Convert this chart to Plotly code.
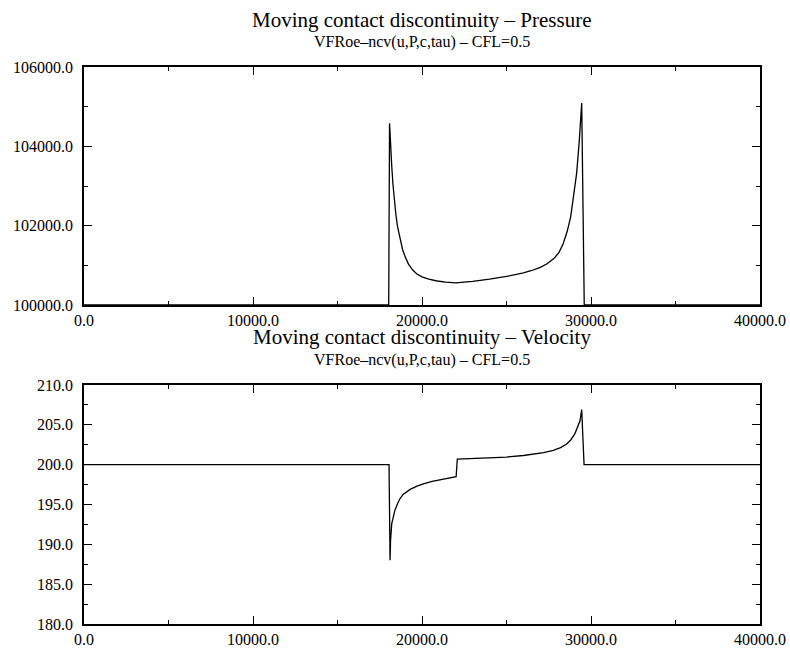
import plotly.graph_objects as go

# Pressure profile
p_x = [0, 18030, 18080, 18110, 18150, 18210, 18280, 18350, 18450, 18550, 18700, 18850, 19000,
       19200, 19450, 19700, 20000, 20400, 20900, 21400, 22000, 23000, 24000, 25000, 26000,
       26500, 27000, 27400, 27800, 28100, 28350, 28600, 28800, 28950, 29150, 29300, 29380,
       29450, 29600, 40000]
p_y = [100000, 100000, 104580, 104250, 103900, 103500, 103050, 102700, 102300, 101980, 101650,
       101400, 101220, 101030, 100880, 100780, 100710, 100650, 100605, 100575, 100560, 100595,
       100650, 100720, 100810, 100870, 100950, 101040, 101170, 101320, 101540, 101870, 102230,
       102650, 103320, 104100, 104550, 105090, 100000, 100000]

# Velocity profile
v_x = [0, 18050, 18110, 18140, 18210, 18300, 18400, 18550, 18700, 18900, 19300, 19700, 20080,
       20600, 21070, 21500, 21950, 22020, 22090, 23000, 24000, 25000, 26000, 26600, 27200,
       27770, 28200, 28560, 28800, 29050, 29200, 29350, 29450, 29590, 40000]
v_y = [200, 200, 188, 190.5, 192.6, 193.6, 194.3, 195.1, 195.75, 196.3, 196.9, 197.3, 197.6,
       197.9, 198.1, 198.3, 198.45, 198.5, 200.7, 200.78, 200.85, 200.95, 201.15, 201.3, 201.5,
       201.8, 202.15, 202.6, 203.1, 203.9, 204.6, 205.5, 206.9, 200, 200]

titles = ["Moving contact discontinuity \u2013 Pressure", "Moving contact discontinuity \u2013 Velocity"]
subtitle = "VFRoe\u2013ncv(u,P,c,tau) \u2013 CFL=0.5"

x_range = [0, 40000]
p_range = [100000, 106000]
v_range = [180, 210]

W, H = 790, 650
FONT = "Liberation Serif, Times New Roman, serif"

fig = go.Figure()
fig.add_trace(go.Scatter(x=p_x, y=p_y, mode="lines", line=dict(color="black", width=1.3),
                         xaxis="x", yaxis="y", showlegend=False))
fig.add_trace(go.Scatter(x=v_x, y=v_y, mode="lines", line=dict(color="black", width=1.3),
                         xaxis="x2", yaxis="y2", showlegend=False))

xdom = [84 / W, 760 / W]
ydom_top = [(H - 305) / H, (H - 67) / H]
ydom_bot = [(H - 624) / H, (H - 385) / H]

common = dict(showgrid=False, zeroline=False, showline=True, linecolor="black", linewidth=1.5,
              mirror="ticks", ticks="inside", ticklen=8, tickwidth=1, tickcolor="black",
              tickfont=dict(family=FONT, size=16, color="black"), tickformat=".1f",
              automargin=False)

fig.update_layout(
    width=W, height=H, margin=dict(l=0, r=0, t=0, b=0),
    paper_bgcolor="white", plot_bgcolor="white",
    xaxis=dict(domain=xdom, range=x_range, dtick=10000, anchor="y",
               minor=dict(dtick=5000, ticks="inside", ticklen=4, tickcolor="black", tickwidth=1),
               ticklabelstandoff=0, **common),
    yaxis=dict(domain=ydom_top, range=p_range, dtick=2000, anchor="x",
               minor=dict(dtick=1000, ticks="inside", ticklen=4, tickcolor="black", tickwidth=1),
               ticklabelstandoff=6, **common),
    xaxis2=dict(domain=xdom, range=x_range, dtick=10000, anchor="y2",
                minor=dict(dtick=5000, ticks="inside", ticklen=4, tickcolor="black", tickwidth=1),
                ticklabelstandoff=0, **common),
    yaxis2=dict(domain=ydom_bot, range=v_range, dtick=5, anchor="x2",
                minor=dict(dtick=2.5, ticks="inside", ticklen=4, tickcolor="black", tickwidth=1),
                ticklabelstandoff=6, **common),
)

cx = (xdom[0] + xdom[1]) / 2
for t, ty, sy in [(titles[0], 20, 42), (titles[1], 337, 360)]:
    fig.add_annotation(text=t, x=cx, y=1 - ty / H, xref="paper", yref="paper",
                       xanchor="center", yanchor="middle", showarrow=False,
                       font=dict(family=FONT, size=21, color="black"))
    fig.add_annotation(text=subtitle, x=cx, y=1 - sy / H, xref="paper", yref="paper",
                       xanchor="center", yanchor="middle", showarrow=False,
                       font=dict(family=FONT, size=16, color="black"))

fig.write_html("out.html")
